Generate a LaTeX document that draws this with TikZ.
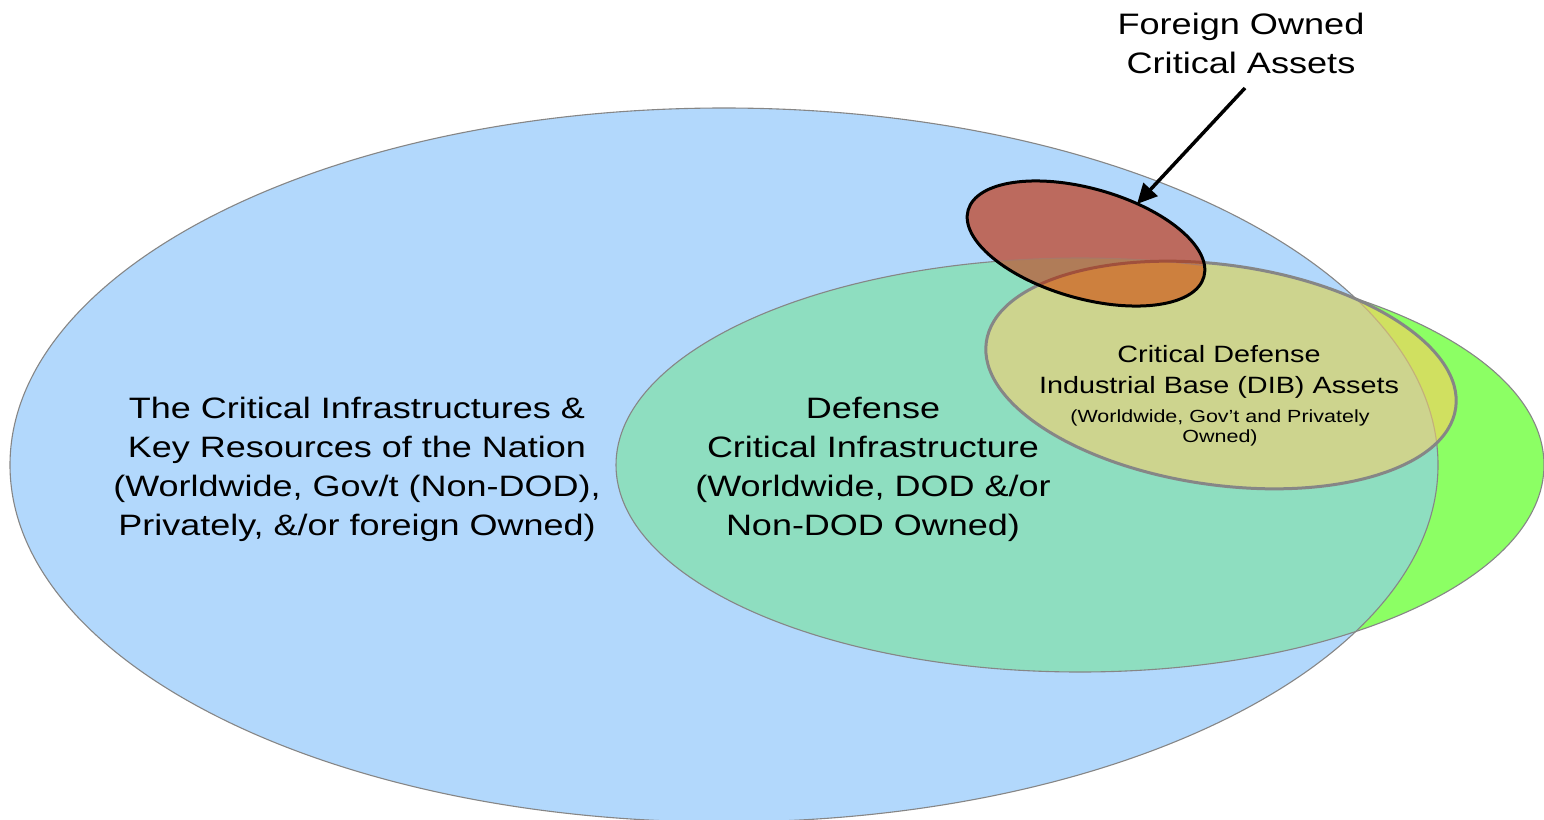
\documentclass[tikz,border=0pt]{standalone}
\usepackage{fontspec}
\usetikzlibrary{arrows.meta}
\newfontfamily\labelfont[FakeStretch=1.22]{Liberation Sans}

\definecolor{nationblue}{HTML}{B2D8FC}
\definecolor{defgreen}{HTML}{8CFF64}
\definecolor{defteal}{HTML}{8EDEC0}
\definecolor{dibolive}{HTML}{CDD48E}
\definecolor{dibyellow}{HTML}{D0E060}
\definecolor{foreignred}{HTML}{BC6A5E}
\definecolor{foreignbrown}{HTML}{B07C58}
\definecolor{foreignorange}{HTML}{CD803E}
\definecolor{rimgrey}{HTML}{868686}
\definecolor{rimtan}{HTML}{C4B07A}
\definecolor{rimbrown}{HTML}{A87868}
\definecolor{rimrust}{HTML}{A0503C}

% the four sets as paths
\newcommand\nationshape{(724,465) ellipse [x radius=714pt, y radius=357pt]}
\newcommand\defshape{(1080,465) ellipse [x radius=464pt, y radius=207pt]}
\newcommand\dibshape{(1221,375) ellipse [x radius=237pt, y radius=110pt]}
\newcommand\foreignshape{(1086,243.5) ellipse [x radius=122.5pt, y radius=55pt]}

\begin{document}
\begin{tikzpicture}[x=1pt,y=-1pt,
  dibrot/.style={rotate around={-8:(1221,375)}},
  redrot/.style={rotate around={-15.8:(1086,243.5)}},
  thinrim/.style={draw=rimgrey,line width=1.1pt},
  dibrim/.style={line width=3pt},
  lbl/.style={align=center,inner sep=0pt,text=black}]
\useasboundingbox (0,0) rectangle (1544,819);
\fill[white] (0,0) rectangle (1544,819);

% nation and defence sets
\fill[defgreen] \defshape;
\fill[nationblue] \nationshape;
\begin{scope}
  \clip \nationshape;
  \fill[defteal] \defshape;
\end{scope}
\draw[thinrim] \nationshape;
\draw[thinrim] \defshape;

% DIB set
\fill[dibyellow, dibrot] \dibshape;
\begin{scope}
  \clip \nationshape;
  \fill[dibolive, dibrot] \dibshape;
\end{scope}
\begin{scope}
  \clip[dibrot] \dibshape;
  \draw[draw=rimtan, line width=1.1pt] \nationshape;
\end{scope}
\draw[draw=rimgrey, dibrim, dibrot] \dibshape;

% foreign owned set
\fill[foreignred, redrot] \foreignshape;
\begin{scope}
  \clip[redrot] \foreignshape;
  \begin{scope}
    \clip \defshape;
    \fill[foreignbrown] \defshape;
  \end{scope}
  \begin{scope}
    \clip[dibrot] \dibshape;
    \fill[foreignorange, dibrot] \dibshape;
  \end{scope}
  \draw[draw=rimbrown, line width=1.1pt] \defshape;
  \draw[draw=rimrust, dibrim, dibrot] \dibshape;
\end{scope}
\draw[draw=black, line width=3pt, redrot] \foreignshape;

% labels
\node[lbl, font=\labelfont\fontsize{29.5pt}{39.1pt}\selectfont] (nation) at (357,469.3)
  {The Critical Infrastructures \&\\Key Resources of the Nation\\(Worldwide, Gov/t (Non-DOD),\\Privately, \&/or foreign Owned)};
\node[lbl, font=\labelfont\fontsize{29.5pt}{39.1pt}\selectfont] (defense) at (873,469.3)
  {Defense\\Critical Infrastructure\\(Worldwide, DOD \&/or\\Non-DOD Owned)};
\node[lbl, font=\labelfont\fontsize{23.6pt}{31.7pt}\selectfont] (dib) at (1219,372)
  {Critical Defense\\Industrial Base (DIB) Assets};
\node[lbl, font=\labelfont\fontsize{17.6pt}{20.5pt}\selectfont] (dibnote) at (1220,428)
  {(Worldwide, Gov’t and Privately\\Owned)};
\node[lbl, font=\labelfont\fontsize{29.6pt}{39pt}\selectfont] (foreign) at (1241,43)
  {Foreign Owned\\Critical Assets};

% pointer to the foreign owned set
\coordinate (tail) at (1245,88);
\coordinate (tip) at (1137,204);
\draw[line width=3.5pt, -{Triangle[length=20pt,width=19pt]}] (tail) -- (tip);
\end{tikzpicture}
\end{document}
